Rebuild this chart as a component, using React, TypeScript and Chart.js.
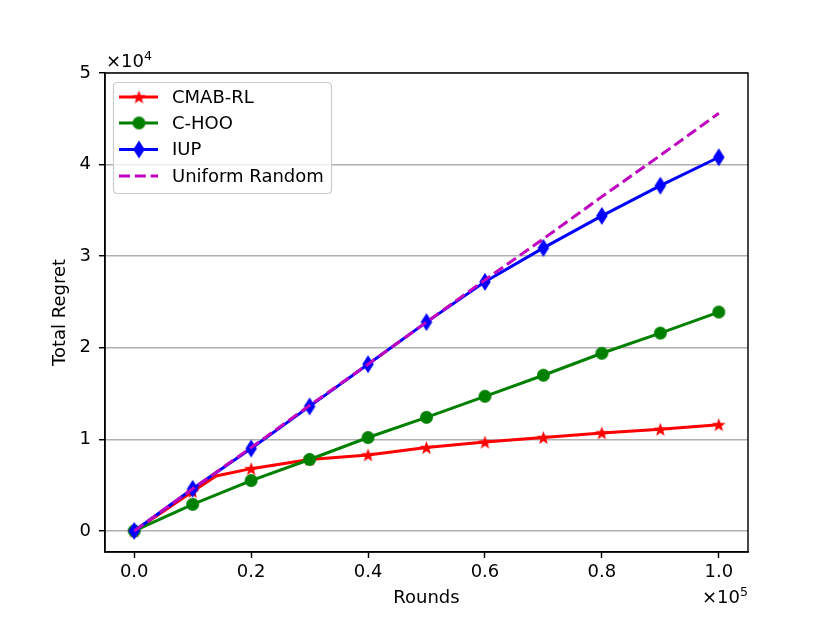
import React, { useEffect, useRef } from "react";
import { Chart, registerables } from "chart.js";

Chart.register(...registerables);

// ---- data (x in units of 1e5 rounds, y in units of 1e4 regret) ----
const rounds = [0, 0.1, 0.2, 0.3, 0.4, 0.5, 0.6, 0.7, 0.8, 0.9, 1.0];
const cmabX = [0, 0.1, 0.14, 0.2, 0.3, 0.4, 0.5, 0.6, 0.7, 0.8, 0.9, 1.0];
const cmabY = [0, 0.43, 0.6, 0.68, 0.78, 0.83, 0.91, 0.97, 1.02, 1.07, 1.11, 1.16];
const cmabMarked = [true, true, false, true, true, true, true, true, true, true, true, true];
const chooY = [0, 0.29, 0.55, 0.78, 1.02, 1.24, 1.47, 1.7, 1.94, 2.16, 2.39];
const iupY = [0, 0.46, 0.9, 1.36, 1.82, 2.28, 2.72, 3.09, 3.44, 3.77, 4.08];
const uniformY = [0, 0.46, 0.91, 1.37, 1.82, 2.28, 2.74, 3.19, 3.65, 4.1, 4.56];

const seriesNames = ["CMAB-RL", "C-HOO", "IUP", "Uniform Random"];
const xTicks = [0, 0.2, 0.4, 0.6, 0.8, 1.0];
const yTicks = [0, 1, 2, 3, 4, 5];
const xTitle = "Rounds";
const yTitle = "Total Regret";
const xOffsetExp = "5";
const yOffsetExp = "4";

const RED = "#ff0000";
const GREEN = "#008000";
const BLUE = "#0000ff";
const MAGENTA = "#bf00bf";
const FONT = "'DejaVu Sans', sans-serif";
const LW = 3;

function makeStar(color: string, R: number): HTMLCanvasElement {
  const c = document.createElement("canvas");
  const s = Math.ceil(2 * R + 2);
  c.width = s;
  c.height = s;
  const ctx = c.getContext("2d")!;
  const cx = s / 2, cy = s / 2 + R * 0.08;
  const r = R * 0.42;
  ctx.beginPath();
  for (let i = 0; i < 10; i++) {
    const a = -Math.PI / 2 + (i * Math.PI) / 5;
    const rr = i % 2 === 0 ? R : r;
    const px = cx + rr * Math.cos(a), py = cy + rr * Math.sin(a);
    if (i === 0) ctx.moveTo(px, py); else ctx.lineTo(px, py);
  }
  ctx.closePath();
  ctx.fillStyle = color;
  ctx.fill();
  return c;
}

function makeDiamond(color: string, w: number, h: number): HTMLCanvasElement {
  const c = document.createElement("canvas");
  c.width = Math.ceil(w + 2);
  c.height = Math.ceil(h + 2);
  const ctx = c.getContext("2d")!;
  const cx = c.width / 2, cy = c.height / 2;
  ctx.beginPath();
  ctx.moveTo(cx, cy - h / 2);
  ctx.lineTo(cx + w / 2, cy);
  ctx.lineTo(cx, cy + h / 2);
  ctx.lineTo(cx - w / 2, cy);
  ctx.closePath();
  ctx.fillStyle = color;
  ctx.fill();
  return c;
}

function makeCircle(color: string, r: number): HTMLCanvasElement {
  const c = document.createElement("canvas");
  const s = Math.ceil(2 * r + 2);
  c.width = s;
  c.height = s;
  const ctx = c.getContext("2d")!;
  ctx.beginPath();
  ctx.arc(s / 2, s / 2, r, 0, Math.PI * 2);
  ctx.fillStyle = color;
  ctx.fill();
  return c;
}

export default function App() {
  const ref = useRef<HTMLCanvasElement | null>(null);

  useEffect(() => {
    document.body.style.margin = "0";
    const canvas = ref.current!;
    const star = makeStar(RED, 7.2);
    const diamond = makeDiamond(BLUE, 11.5, 18);
    const circle = makeCircle(GREEN, 6.5);

    const extras = {
      id: "mplExtras",
      afterDatasetsDraw(chart: any) {
        const { ctx, chartArea: a } = chart;
        ctx.save();
        // frame
        ctx.strokeStyle = "#000";
        ctx.lineWidth = 1.44;
        ctx.strokeRect(a.left, a.top, a.right - a.left, a.bottom - a.top);

        // offset texts
        ctx.fillStyle = "#000";
        ctx.textBaseline = "alphabetic";
        ctx.textAlign = "left";
        ctx.font = `18px ${FONT}`;
        const base = "\u00d710";
        const bw = ctx.measureText(base).width;
        ctx.fillText(base, 106, 67);
        ctx.font = `12.6px ${FONT}`;
        ctx.fillText(yOffsetExp, 106 + bw, 60);
        ctx.font = `12.6px ${FONT}`;
        const ew = ctx.measureText(xOffsetExp).width;
        ctx.fillText(xOffsetExp, 748 - ew, 596);
        ctx.font = `18px ${FONT}`;
        ctx.fillText(base, 748 - ew - bw, 603);

        // legend
        const lx = 113.5, ly = 82.5, lw = 218, lh = 111, rad = 4;
        ctx.beginPath();
        ctx.moveTo(lx + rad, ly);
        ctx.lineTo(lx + lw - rad, ly);
        ctx.quadraticCurveTo(lx + lw, ly, lx + lw, ly + rad);
        ctx.lineTo(lx + lw, ly + lh - rad);
        ctx.quadraticCurveTo(lx + lw, ly + lh, lx + lw - rad, ly + lh);
        ctx.lineTo(lx + rad, ly + lh);
        ctx.quadraticCurveTo(lx, ly + lh, lx, ly + lh - rad);
        ctx.lineTo(lx, ly + rad);
        ctx.quadraticCurveTo(lx, ly, lx + rad, ly);
        ctx.closePath();
        ctx.fillStyle = "rgba(255,255,255,0.8)";
        ctx.fill();
        ctx.strokeStyle = "#cccccc";
        ctx.lineWidth = 1.2;
        ctx.stroke();

        const rows = [97, 123, 149.5, 176];
        const colors = [RED, GREEN, BLUE, MAGENTA];
        const marks: (HTMLCanvasElement | null)[] = [star, circle, diamond, null];
        for (let i = 0; i < 4; i++) {
          const y = rows[i];
          ctx.beginPath();
          ctx.strokeStyle = colors[i];
          ctx.lineWidth = LW;
          ctx.setLineDash(i === 3 ? [11, 4.8] : []);
          ctx.moveTo(119, y);
          ctx.lineTo(158, y);
          ctx.stroke();
          ctx.setLineDash([]);
          const m = marks[i];
          if (m) ctx.drawImage(m, 139 - m.width / 2, y - m.height / 2);
          ctx.fillStyle = "#000";
          ctx.font = `18px ${FONT}`;
          ctx.textBaseline = "middle";
          ctx.fillText(seriesNames[i], 172, y + 1);
        }
        ctx.restore();
      },
    };

    const chart = new Chart(canvas, {
      type: "line",
      data: {
        datasets: [
          {
            label: seriesNames[0],
            data: cmabX.map((x, i) => ({ x, y: cmabY[i] })),
            borderColor: RED,
            backgroundColor: RED,
            borderWidth: LW,
            pointStyle: star as any,
            pointRadius: cmabMarked.map((m) => (m ? 6 : 0)) as any,
            tension: 0,
            order: 4,
          },
          {
            label: seriesNames[1],
            data: rounds.map((x, i) => ({ x, y: chooY[i] })),
            borderColor: GREEN,
            backgroundColor: GREEN,
            borderWidth: LW,
            pointStyle: circle as any,
            pointRadius: 6,
            tension: 0,
            order: 3,
          },
          {
            label: seriesNames[2],
            data: rounds.map((x, i) => ({ x, y: iupY[i] })),
            borderColor: BLUE,
            backgroundColor: BLUE,
            borderWidth: LW,
            pointStyle: diamond as any,
            pointRadius: 7,
            tension: 0,
            order: 2,
          },
          {
            label: seriesNames[3],
            data: rounds.map((x, i) => ({ x, y: uniformY[i] })),
            borderColor: MAGENTA,
            backgroundColor: MAGENTA,
            borderWidth: LW,
            borderDash: [11, 4.8],
            pointRadius: 0,
            tension: 0,
            order: 1,
          },
        ],
      },
      options: {
        responsive: false,
        animation: false,
        devicePixelRatio: 1,
        layout: { padding: { top: 73, right: 82, left: 0, bottom: 0 } },
        plugins: { legend: { display: false }, tooltip: { enabled: false } },
        font: { family: FONT, size: 18 } as any,
        scales: {
          x: {
            type: "linear",
            min: -0.05,
            max: 1.05,
            afterBuildTicks: (s: any) => {
              s.ticks = xTicks.map((v) => ({ value: v }));
            },
            afterFit: (s: any) => {
              s.height = 70;
            },
            ticks: {
              color: "#000",
              font: { family: FONT, size: 18 },
              padding: 4,
              maxRotation: 0,
              autoSkip: false,
              callback: (v: any) => Number(v).toFixed(1),
            },
            grid: {
              drawOnChartArea: false,
              drawTicks: true,
              tickLength: 6,
              tickColor: "#000",
              tickWidth: 1.44,
            },
            border: { display: true, color: "#000", width: 1.44 },
            title: {
              display: true,
              text: xTitle,
              color: "#000",
              font: { family: FONT, size: 18 },
              padding: { top: 0, bottom: 13 },
            },
          },
          y: {
            type: "linear",
            min: -0.23,
            max: 5,
            afterBuildTicks: (s: any) => {
              s.ticks = yTicks.map((v) => ({ value: v }));
            },
            afterFit: (s: any) => {
              s.width = 105;
            },
            ticks: {
              color: "#000",
              font: { family: FONT, size: 18 },
              padding: 8,
              autoSkip: false,
              callback: (v: any) => String(v),
            },
            grid: {
              color: "#b0b0b0",
              lineWidth: 1.44,
              drawTicks: true,
              tickLength: 6,
              tickColor: "#000",
              tickWidth: 1.44,
            },
            border: { display: true, color: "#000", width: 1.44 },
            title: {
              display: true,
              text: yTitle,
              color: "#000",
              font: { family: FONT, size: 18 },
              padding: { top: 50, bottom: 0 },
            },
          },
        },
      },
      plugins: [extras],
    });

    return () => chart.destroy();
  }, []);

  return (
    <div style={{ position: "absolute", left: 0, top: 0, width: 830, height: 622, background: "#fff" }}>
      <canvas ref={ref} width={830} height={622} style={{ width: 830, height: 622, display: "block" }} />
    </div>
  );
}
